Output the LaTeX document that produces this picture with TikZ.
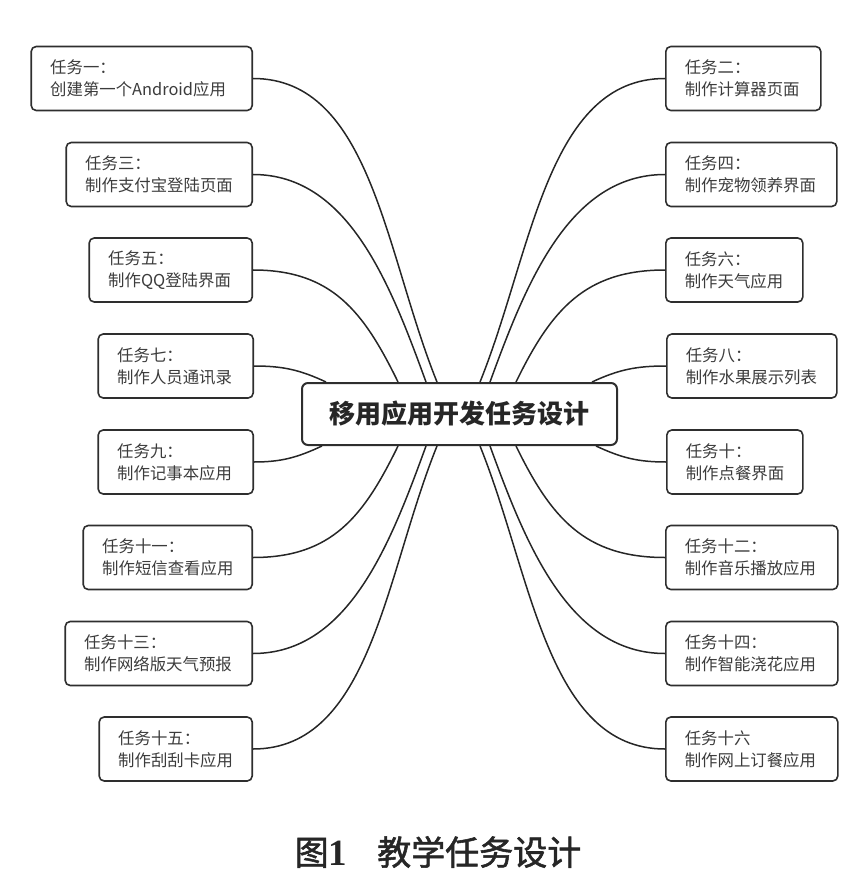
\documentclass[tikz,border=0pt]{standalone}
\usepackage{fontspec}
\usetikzlibrary{calc}
\newfontfamily\cjk{Noto Sans CJK SC}
\newfontfamily\cjkheavy[FakeBold=1.6]{Noto Sans CJK SC}
\newfontfamily\lserif{Liberation Serif}
\definecolor{bordercol}{HTML}{2E2E2E}
\definecolor{textcol}{HTML}{3C3C3C}
\definecolor{linkcol}{HTML}{262626}
\begin{document}
\begin{tikzpicture}[x=1pt,y=1pt,
  task/.style={draw=bordercol, line width=1.6pt, rounded corners=5pt,
    minimum height=64pt, inner xsep=19pt, inner ysep=0pt, align=left,
    font=\cjk\fontsize{16.4}{22}\selectfont, text=textcol},
  lefttask/.style={task, anchor=east},
  righttask/.style={task, anchor=west},
  hub/.style={draw=bordercol, line width=2pt, rounded corners=6pt,
    minimum width=315pt, minimum height=62pt, inner sep=0pt,
    font=\cjk\bfseries\fontsize{26}{30}\selectfont, text=black!85},
  link/.style={draw=linkcol, line width=1.5pt}]
\useasboundingbox (0,0) rectangle (853,-882);

% central node
\node[hub] (c) at (459.5,-414) {移用应用开发任务设计};

% left tasks
\node[lefttask, text width=183pt] (t1) at (253,-78.5) {任务一：\\创建第一个Android应用};
\node[lefttask, text width=148pt] (t3) at (253,-174.5) {任务三：\\制作支付宝登陆页面};
\node[lefttask, text width=125pt] (t5) at (253,-270) {任务五：\\制作QQ登陆界面};
\node[lefttask, text width=117pt] (t7) at (254,-366) {任务七：\\制作人员通讯录};
\node[lefttask, text width=117pt] (t9) at (254,-462) {任务九：\\制作记事本应用};
\node[lefttask, text width=131pt] (t11) at (253,-557.5) {任务十一：\\制作短信查看应用};
\node[lefttask, text width=149pt] (t13) at (253,-653.5) {任务十三：\\制作网络版天气预报};
\node[lefttask, text width=115pt] (t15) at (253,-749) {任务十五：\\制作刮刮卡应用};

% right tasks
\node[righttask, text width=117pt] (t2) at (665,-78.5) {任务二：\\制作计算器页面};
\node[righttask, text width=133pt] (t4) at (665,-174.5) {任务四：\\制作宠物领养界面};
\node[righttask, text width=99pt] (t6) at (665,-270) {任务六：\\制作天气应用};
\node[righttask, text width=132pt] (t8) at (666,-366) {任务八：\\制作水果展示列表};
\node[righttask, text width=98pt] (t10) at (666,-462) {任务十：\\制作点餐界面};
\node[righttask, text width=134pt] (t12) at (665,-557.5) {任务十二：\\制作音乐播放应用};
\node[righttask, text width=134pt] (t14) at (665,-653.5) {任务十四：\\制作智能浇花应用};
\node[righttask, text width=134pt] (t16) at (665,-749) {任务十六\\制作网上订餐应用};

% attachment points on the hub
\coordinate (n1) at ($(c.north west)+(136,0)$);
\coordinate (n3) at ($(c.north west)+(125,0)$);
\coordinate (n5) at ($(c.north west)+(97,0)$);
\coordinate (n7) at ($(c.north west)+(25,0)$);
\coordinate (n2) at ($(c.north west)+(179,0)$);
\coordinate (n4) at ($(c.north west)+(189,0)$);
\coordinate (n6) at ($(c.north west)+(215,0)$);
\coordinate (n8) at ($(c.north west)+(291,0)$);
\coordinate (s15) at ($(c.south west)+(136,0)$);
\coordinate (s13) at ($(c.south west)+(125,0)$);
\coordinate (s11) at ($(c.south west)+(97,0)$);
\coordinate (s9) at ($(c.south west)+(21,0)$);
\coordinate (s16) at ($(c.south west)+(179,0)$);
\coordinate (s14) at ($(c.south west)+(189,0)$);
\coordinate (s12) at ($(c.south west)+(215,0)$);
\coordinate (s10) at ($(c.south west)+(295,0)$);

% connectors, left side
\draw[link] (t1.east) to[out=0,in=112,out looseness=0.85] (n1);
\draw[link] (t3.east) to[out=0,in=110,out looseness=0.9] (n3);
\draw[link] (t5.east) to[out=0,in=116,looseness=1.1] (n5);
\draw[link] (t7.east) to[out=0,in=155] (n7);
\draw[link] (t9.east) to[out=0,in=-155] (s9);
\draw[link] (t11.east) to[out=0,in=-116,looseness=1.1] (s11);
\draw[link] (t13.east) to[out=0,in=-110,out looseness=0.9] (s13);
\draw[link] (t15.east) to[out=0,in=-112,out looseness=0.85] (s15);

% connectors, right side
\draw[link] (t2.west) to[out=180,in=68,out looseness=0.85] (n2);
\draw[link] (t4.west) to[out=180,in=70,out looseness=0.9] (n4);
\draw[link] (t6.west) to[out=180,in=64,looseness=1.1] (n6);
\draw[link] (t8.west) to[out=180,in=25] (n8);
\draw[link] (t10.west) to[out=180,in=-25] (s10);
\draw[link] (t12.west) to[out=180,in=-64,looseness=1.1] (s12);
\draw[link] (t14.west) to[out=180,in=-70,out looseness=0.9] (s14);
\draw[link] (t16.west) to[out=180,in=-68,out looseness=0.85] (s16);

% caption
\node[font=\fontsize{34}{40}\selectfont, text=black!85, inner sep=0pt] (cap) at (438,-852)
  {{\cjkheavy 图}{\lserif\bfseries\fontsize{37}{40}\selectfont 1}\hspace{30pt}{\cjkheavy 教学任务设计}};
\end{tikzpicture}
\end{document}
